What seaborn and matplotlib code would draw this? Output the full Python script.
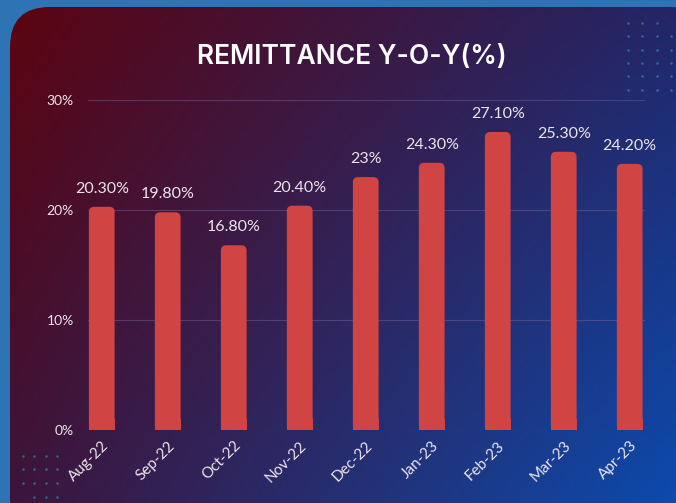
import numpy as np
import pandas as pd
import matplotlib
matplotlib.use("Agg")
import matplotlib.pyplot as plt
from matplotlib.patches import FancyBboxPatch
import seaborn as sns

months = ["Aug-22", "Sep-22", "Oct-22", "Nov-22", "Dec-22", "Jan-23", "Feb-23", "Mar-23", "Apr-23"]
growth = [20.3, 19.8, 16.8, 20.4, 23.0, 24.3, 27.1, 25.3, 24.2]
value_labels = ["20.30%", "19.80%", "16.80%", "20.40%", "23%", "24.30%", "27.10%", "25.30%", "24.20%"]
y_ticks = [0, 10, 20, 30]
y_tick_labels = ["0%", "10%", "20%", "30%"]

BAR_COLOR = "#d04444"
TEXT_COLOR = "#ece4ec"

sns.set_theme(style="white")
plt.rcParams["font.family"] = ["Lato", "DejaVu Sans"]

W, H = 676, 503
fig = plt.figure(figsize=(W / 100, H / 100), dpi=100)
fig.patch.set_facecolor("#2e74b5")

# gradient panel behind everything
bg = fig.add_axes([0, 0, 1, 1], zorder=-10)
bg.set_xlim(0, W)
bg.set_ylim(H, 0)
bg.axis("off")
tl = np.array([92, 4, 16]) / 255
tr = np.array([32, 40, 108]) / 255
bl = np.array([58, 22, 62]) / 255
br = np.array([8, 80, 184]) / 255
u = np.linspace(0, 1, 200)[None, :, None]
v = np.linspace(0, 1, 150)[:, None, None]
grad = (1 - u) * (1 - v) * tl + u * (1 - v) * tr + (1 - u) * v * bl + u * v * br
panel = FancyBboxPatch((10, 7), 700, 530, boxstyle="round,pad=0,rounding_size=40",
                       facecolor="none", edgecolor="none")
bg.add_patch(panel)
im = bg.imshow(grad, extent=(10, 710, 537, 7), aspect="auto")
im.set_clip_path(panel)

# decorative dots
dot = "#2a8fa6"
for cx in [628, 642, 657, 671]:
    for cy in [23, 36, 50, 63, 76, 90]:
        if cx == 671 and cy == 23:
            continue
        bg.plot(cx, cy, "o", ms=1.8, color=dot, alpha=0.7, mew=0)
for cx in [23, 34, 46, 57]:
    for cy in [456, 469, 483, 497]:
        if cx == 23 and cy == 497:
            continue
        bg.plot(cx, cy, "o", ms=1.8, color=dot, alpha=0.7, mew=0)

ax = fig.add_axes([0.130, 0.145, 0.824, 0.656])
ax.set_facecolor("none")
df = pd.DataFrame({"month": months, "growth": growth})
sns.barplot(data=df, x="month", y="growth", color=BAR_COLOR, width=0.39,
            saturation=1, ax=ax, zorder=3)

# swap plain bars for ones with rounded tops
for bar in list(ax.patches):
    x0, w, h = bar.get_x(), bar.get_width(), bar.get_height()
    bar.set_visible(False)
    rb = FancyBboxPatch((x0, 0), w, h, boxstyle="round,pad=0,rounding_size=0.08",
                        mutation_aspect=6, facecolor=BAR_COLOR, edgecolor="none", zorder=3)
    ax.add_patch(rb)
    ax.add_patch(plt.Rectangle((x0, 0), w, min(h, 1), facecolor=BAR_COLOR,
                               edgecolor="none", zorder=3))

for i, (g, lab) in enumerate(zip(growth, value_labels)):
    ax.text(i, g + 1.0, lab, ha="center", va="bottom", color=TEXT_COLOR, fontsize=11.5)

ax.set_xlim(-0.21, 8.23)
ax.set_ylim(0, 30)
ax.set_yticks(y_ticks)
ax.set_yticklabels(y_tick_labels, color=TEXT_COLOR, fontsize=10)
ax.set_xticks(range(len(months)))
ax.set_xticklabels(months, rotation=45, ha="right", rotation_mode="anchor",
                   color=TEXT_COLOR, fontsize=11)
ax.tick_params(axis="both", length=0, pad=10)
ax.tick_params(axis="x", pad=6)
for yv in y_ticks:
    ax.axhline(yv, color="#6a5a90", lw=0.8, alpha=0.55, zorder=1)
ax.set_xlabel("")
ax.set_ylabel("")
sns.despine(ax=ax, left=True, bottom=True)

fig.text(0.52, 0.886, "REMITTANCE Y-O-Y(%)", ha="center", va="center",
         color="white", fontsize=19, fontweight="semibold", family=["Inter", "DejaVu Sans"])

fig.savefig("out.png", dpi=100)
